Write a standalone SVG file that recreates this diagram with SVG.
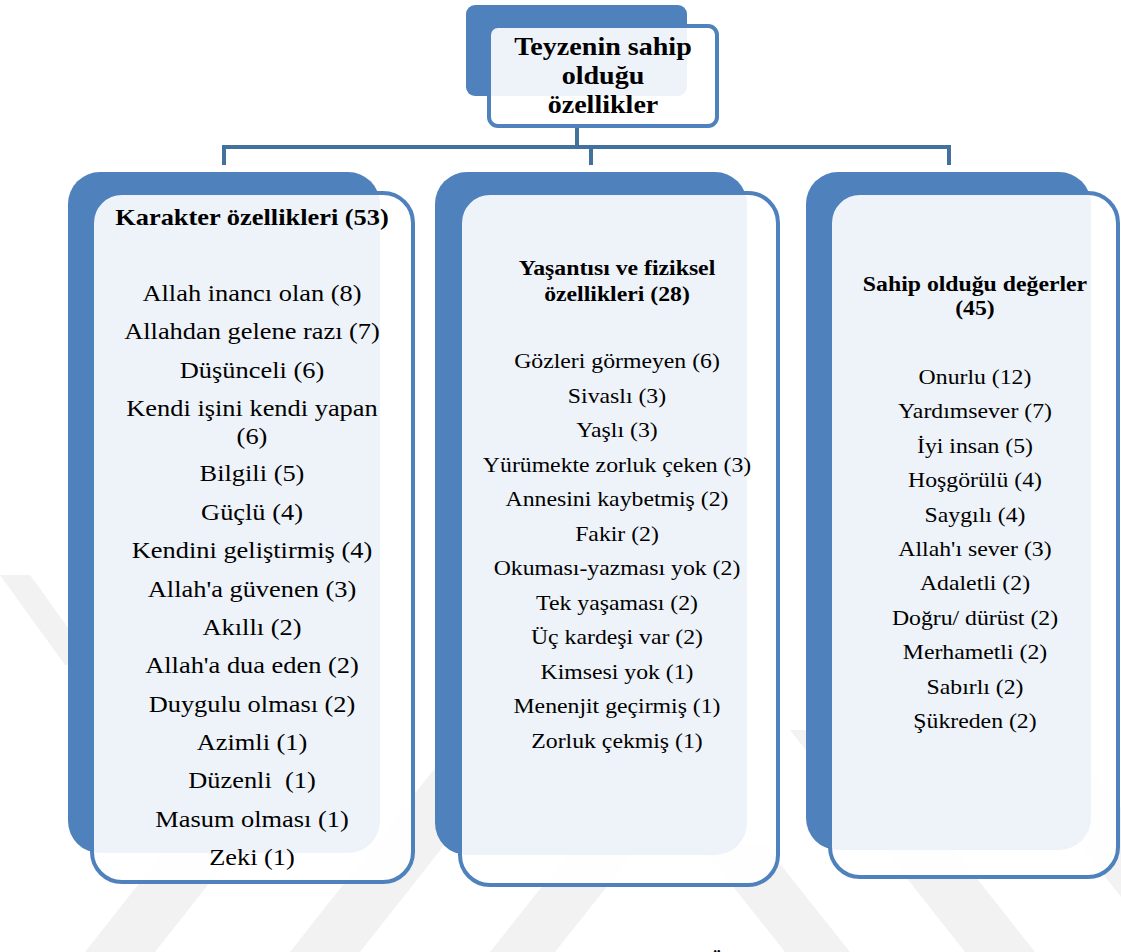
<svg xmlns="http://www.w3.org/2000/svg" width="1121" height="952" viewBox="0 0 1121 952">
<style>
.wm{fill:#f2f2f2}
.back{fill:#4F81BD}
.front{fill:#ffffff;fill-opacity:0.9;stroke:#4F81BD;stroke-width:4}
.conn{fill:none;stroke:#41719C;stroke-width:4}
text{font-family:'Liberation Serif','Times New Roman',serif;fill:#000000;text-anchor:middle}
.ti{font-size:26px;font-weight:bold}
.h1{font-size:24px;font-weight:bold}
.h2{font-size:21.6px;font-weight:bold}
.i1{font-size:24px}
.i2{font-size:21.6px}
</style>
<rect width="1121" height="952" fill="#ffffff"/>
<g id="watermark">
<polygon class="wm" points="0,575 30,575 95,665 65,665"/>
<polygon class="wm" points="85,952 155,952 330,730 260,730"/>
<polygon class="wm" points="290,952 360,952 535,730 465,730"/>
<polygon class="wm" points="490,952 555,952 640,845 575,845"/>
<polygon class="wm" points="700,845 765,845 850,952 785,952"/>
<polygon class="wm" points="790,730 860,730 1035,952 965,952"/>
<polygon class="wm" points="990,730 1060,730 1121,808 1121,897"/>
</g>
<g id="connectors">
<path class="conn" d="M577,127 V147"/>
<path class="conn" d="M224,165 V147 H949 V165"/>
<path class="conn" d="M591,147 V165"/>
</g>
<g id="root">
<rect class="back" x="466" y="5" width="221" height="91" rx="9"/>
<rect class="front" x="489" y="26" width="228" height="100" rx="9"/>
<g transform="translate(603,0) scale(1.08,1)">
<text class="ti" x="0" y="55">Teyzenin sahip</text>
<text class="ti" x="0" y="84">olduğu</text>
<text class="ti" x="0" y="113">özellikler</text>
</g>
</g>
<g id="karakter">
<rect class="back" x="68" y="172" width="312" height="681" rx="32"/>
<rect class="front" x="92" y="193" width="321" height="689" rx="30"/>
<g transform="translate(252,0) scale(1.1,1)">
<text class="h1" x="0" y="225">Karakter özellikleri (53)</text>
<text class="i1" x="0" y="301">Allah inancı olan (8)</text>
<text class="i1" x="0" y="339">Allahdan gelene razı (7)</text>
<text class="i1" x="0" y="378">Düşünceli (6)</text>
<text class="i1" x="0" y="416">Kendi işini kendi yapan</text>
<text class="i1" x="0" y="444">(6)</text>
<text class="i1" x="0" y="481">Bilgili (5)</text>
<text class="i1" x="0" y="520">Güçlü (4)</text>
<text class="i1" x="0" y="558">Kendini geliştirmiş (4)</text>
<text class="i1" x="0" y="597">Allah'a güvenen (3)</text>
<text class="i1" x="0" y="635">Akıllı (2)</text>
<text class="i1" x="0" y="673">Allah'a dua eden (2)</text>
<text class="i1" x="0" y="712">Duygulu olması (2)</text>
<text class="i1" x="0" y="750">Azimli (1)</text>
<text class="i1" x="0" y="788" xml:space="preserve">Düzenli  (1)</text>
<text class="i1" x="0" y="827">Masum olması (1)</text>
<text class="i1" x="0" y="865">Zeki (1)</text>
</g>
</g>
<g id="yasanti">
<rect class="back" x="435" y="172" width="312" height="683" rx="32"/>
<rect class="front" x="460" y="193" width="318" height="692" rx="30"/>
<g transform="translate(617,0) scale(1.1,1)">
<text class="h2" x="0" y="275">Yaşantısı ve fiziksel</text>
<text class="h2" x="0" y="301">özellikleri (28)</text>
<text class="i2" x="0" y="368">Gözleri görmeyen (6)</text>
<text class="i2" x="0" y="403">Sivaslı (3)</text>
<text class="i2" x="0" y="437">Yaşlı (3)</text>
<text class="i2" x="0" y="472">Yürümekte zorluk çeken (3)</text>
<text class="i2" x="0" y="506">Annesini kaybetmiş (2)</text>
<text class="i2" x="0" y="541">Fakir (2)</text>
<text class="i2" x="0" y="575">Okuması-yazması yok (2)</text>
<text class="i2" x="0" y="610">Tek yaşaması (2)</text>
<text class="i2" x="0" y="644">Üç kardeşi var (2)</text>
<text class="i2" x="0" y="679">Kimsesi yok (1)</text>
<text class="i2" x="0" y="713">Menenjit geçirmiş (1)</text>
<text class="i2" x="0" y="748">Zorluk çekmiş (1)</text>
</g>
</g>
<g id="degerler">
<rect class="back" x="806" y="172" width="285" height="678" rx="32"/>
<rect class="front" x="830" y="193" width="288" height="684" rx="30"/>
<g transform="translate(975,0) scale(1.1,1)">
<text class="h2" x="0" y="291">Sahip olduğu değerler</text>
<text class="h2" x="0" y="315">(45)</text>
<text class="i2" x="0" y="384">Onurlu (12)</text>
<text class="i2" x="0" y="418">Yardımsever (7)</text>
<text class="i2" x="0" y="453">İyi insan (5)</text>
<text class="i2" x="0" y="487">Hoşgörülü (4)</text>
<text class="i2" x="0" y="522">Saygılı (4)</text>
<text class="i2" x="0" y="556">Allah'ı sever (3)</text>
<text class="i2" x="0" y="590">Adaletli (2)</text>
<text class="i2" x="0" y="625">Doğru/ dürüst (2)</text>
<text class="i2" x="0" y="659">Merhametli (2)</text>
<text class="i2" x="0" y="694">Sabırlı (2)</text>
<text class="i2" x="0" y="728">Şükreden (2)</text>
</g>
</g>
<text class="h2" x="717" y="968">Ö</text>
</svg>
